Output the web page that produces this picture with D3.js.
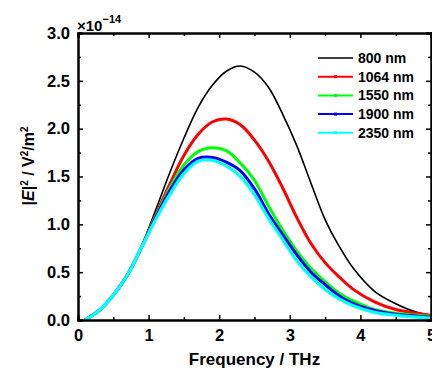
<!DOCTYPE html>
<html>
<head>
<meta charset="utf-8">
<script src="https://cdn.jsdelivr.net/npm/d3@7"></script>
<style>
	body { margin: 0; background: #fff; }
	svg text { font-family: "Liberation Sans", Arial, sans-serif; font-weight: bold; }
</style>
</head>
<body>
<svg id="chart" width="432" height="372"></svg>
<script>
// frequency grid (THz), values in units of 1e-14 V^2/m^2
const freq = [0.1, 0.3, 0.5, 0.7, 0.9, 1.1, 1.3, 1.5, 1.7, 1.9, 2.1, 2.3, 2.5, 2.7, 2.9, 3.1, 3.3, 3.5, 3.7, 3.9, 4.2, 4.5, 4.8, 5.0];
const e800  = [0, 0.10, 0.26, 0.47, 0.77, 1.15, 1.54, 1.90, 2.22, 2.45, 2.60, 2.655, 2.59, 2.43, 2.15, 1.82, 1.43, 1.05, 0.77, 0.54, 0.30, 0.17, 0.08, 0.05];
const e1064 = [0, 0.10, 0.26, 0.47, 0.76, 1.10, 1.42, 1.72, 1.94, 2.07, 2.10, 2.04, 1.88, 1.66, 1.38, 1.07, 0.80, 0.60, 0.45, 0.32, 0.19, 0.11, 0.07, 0.05];
const e1550 = [0, 0.10, 0.26, 0.47, 0.76, 1.08, 1.38, 1.62, 1.76, 1.80, 1.77, 1.64, 1.46, 1.19, 0.94, 0.72, 0.54, 0.40, 0.28, 0.20, 0.11, 0.07, 0.05, 0.04];
const e1900 = [0, 0.10, 0.26, 0.47, 0.76, 1.07, 1.35, 1.57, 1.69, 1.70, 1.65, 1.56, 1.37, 1.11, 0.89, 0.68, 0.50, 0.37, 0.25, 0.17, 0.10, 0.06, 0.04, 0.03];
const e2350 = [0, 0.10, 0.26, 0.47, 0.76, 1.05, 1.31, 1.53, 1.66, 1.67, 1.61, 1.50, 1.31, 1.06, 0.84, 0.62, 0.45, 0.32, 0.22, 0.15, 0.08, 0.05, 0.03, 0.02];
const seriesNames = ['800 nm', '1064 nm', '1550 nm', '1900 nm', '2350 nm'];
const seriesColors = ['#000000', '#ff0000', '#00ff00', '#0000ff', '#00ffff'];
const xTicks = [0, 1, 2, 3, 4, 5];
const yTicks = [0, 0.5, 1.0, 1.5, 2.0, 2.5, 3.0];

const Chart = {
	left: 78, right: 431, top: 33, bottom: 320,
	xScale: null, yScale: null, svg: null,

	init: function() {
		const self = this;
		self.svg = d3.select('#chart');
		self.xScale = d3.scaleLinear().domain([0, 5]).range([self.left, self.right]);
		self.yScale = d3.scaleLinear().domain([0, 3]).range([self.bottom, self.top]);
		self.drawLines();
		self.drawAxes();
		self.drawLegend();
	},

	drawLines: function() {
		const self = this;
		let xScale = self.xScale, yScale = self.yScale;
		let all = [e800, e1064, e1550, e1900, e2350];
		let widths = [1.6, 3, 3, 3, 3.2];
		let line = d3.line()
			.x(function(d) { return xScale(d[0]); })
			.y(function(d) { return yScale(d[1]); })
			.curve(d3.curveCatmullRom.alpha(0.5));

		all.forEach(function(vals, k) {
			let pts = freq.map(function(f, i) { return [f, vals[i]]; });
			self.svg.append('path')
				.attr('d', line(pts))
				.style('fill', 'none')
				.style('stroke', seriesColors[k])
				.style('stroke-width', widths[k]);
		});
	},

	drawAxes: function() {
		const self = this;
		let svg = self.svg;
		let xScale = self.xScale, yScale = self.yScale;

		// bottom / top: majors inward, minor at halves
		svg.append('g')
			.attr('transform', 'translate(0,' + self.bottom + ')')
			.call(d3.axisBottom(xScale).tickValues(d3.range(0.5, 5, 1)).tickSize(-3).tickFormat(''));
		svg.append('g')
			.attr('transform', 'translate(0,' + self.bottom + ')')
			.call(d3.axisBottom(xScale).tickValues(xTicks).tickSize(-5).tickPadding(9).tickFormat(d3.format('d')));
		svg.append('g')
			.attr('transform', 'translate(0,' + self.top + ')')
			.call(d3.axisTop(xScale).tickValues(d3.range(0.5, 5, 1)).tickSize(-3).tickFormat(''));
		svg.append('g')
			.attr('transform', 'translate(0,' + self.top + ')')
			.call(d3.axisTop(xScale).tickValues(xTicks).tickSize(-5).tickFormat(''));

		// left / right
		svg.append('g')
			.attr('transform', 'translate(' + self.left + ',0)')
			.call(d3.axisLeft(yScale).tickValues(d3.range(0.25, 3, 0.5)).tickSize(-3).tickFormat(''));
		svg.append('g')
			.attr('transform', 'translate(' + self.left + ',0)')
			.call(d3.axisLeft(yScale).tickValues(yTicks).tickSize(-5).tickPadding(8).tickFormat(d3.format('.1f')));
		svg.append('g')
			.attr('transform', 'translate(' + self.right + ',0)')
			.call(d3.axisRight(yScale).tickValues(d3.range(0.25, 3, 0.5)).tickSize(-3).tickFormat(''));
		svg.append('g')
			.attr('transform', 'translate(' + self.right + ',0)')
			.call(d3.axisRight(yScale).tickValues(yTicks).tickSize(-5).tickFormat(''));

		svg.selectAll('.domain').style('stroke', '#000').style('stroke-width', 2);
		svg.selectAll('.tick line').style('stroke', '#000').style('stroke-width', 1.5);
		svg.selectAll('.tick text')
			.style('font-size', '16.5px')
			.style('fill', '#000');

		// axis titles
		svg.append('text')
			.attr('x', (self.left + self.right) / 2)
			.attr('y', 365)
			.style('text-anchor', 'middle')
			.style('font-size', '17px')
			.text('Frequency / THz');

		let yt = svg.append('text')
			.attr('transform', 'translate(34,' + 166 + ') rotate(-90)')
			.style('text-anchor', 'middle')
			.style('font-size', '16px');
		yt.append('tspan').text('|');
		yt.append('tspan').style('font-style', 'italic').text('E');
		yt.append('tspan').text('|');
		yt.append('tspan').attr('dy', -6).style('font-size', '10px').text('2');
		yt.append('tspan').attr('dy', 6).text(' / V');
		yt.append('tspan').attr('dy', -6).style('font-size', '10px').text('2');
		yt.append('tspan').attr('dy', 6).text('/m');
		yt.append('tspan').attr('dy', -6).style('font-size', '10px').text('2');

		// multiplier
		let mult = svg.append('text')
			.attr('x', 77)
			.attr('y', 31)
			.style('font-size', '15px');
		mult.append('tspan').text('\u00d710');
		mult.append('tspan').attr('dy', -8).style('font-size', '11px').text('\u221214');
	},

	drawLegend: function() {
		const self = this;
		let legend = self.svg.append('g').attr('transform', 'translate(318,58)');
		seriesNames.forEach(function(name, i) {
			let row = legend.append('g').attr('transform', 'translate(0,' + (i * 18.7) + ')');
			row.append('line')
				.attr('x1', 0).attr('x2', 35)
				.style('stroke', seriesColors[i])
				.style('stroke-width', i == 0 ? 1.6 : 2);
			if (i > 0) {
				row.append('rect')
					.attr('x', 16).attr('y', -1.5).attr('width', 3).attr('height', 3)
					.style('fill', seriesColors[i]);
			}
			row.append('text')
				.attr('x', 40)
				.attr('y', 5)
				.style('font-size', '14px')
				.text(name);
		});
	}
};

Chart.init();
</script>
</body>
</html>
